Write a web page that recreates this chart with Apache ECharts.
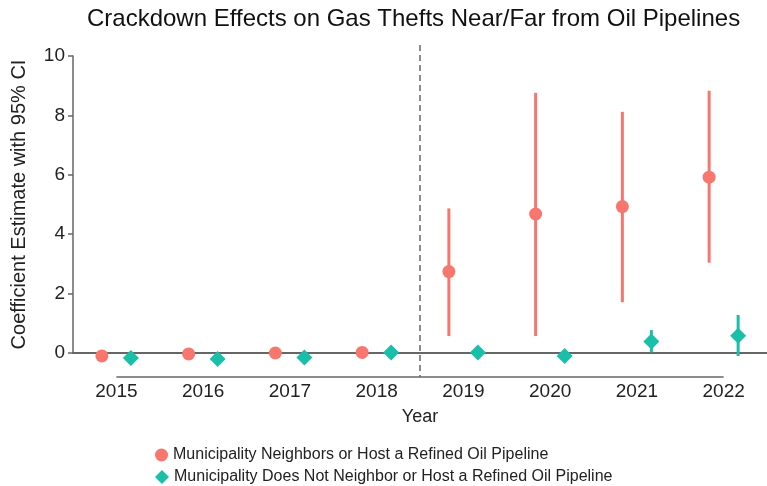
<!DOCTYPE html>
<html><head><meta charset="utf-8">
<script src="https://cdn.jsdelivr.net/npm/echarts@6/dist/echarts.min.js"></script>
<style>html,body{margin:0;padding:0;background:#fff}#c{width:767px;height:486px}</style>
</head><body><div id="c"></div>
<script>
const years = ['2015','2016','2017','2018','2019','2020','2021','2022'];
const yTicks = [0, 2, 4, 6, 8, 10];
const nearEst  = [-0.10, -0.03, 0.00, 0.02, 2.74, 4.68, 4.93, 5.92];
const nearLow  = [-0.18, -0.10, -0.07, -0.05, 0.57, 0.57, 1.71, 3.04];
const nearHigh = [-0.02, 0.04, 0.07, 0.09, 4.87, 8.76, 8.12, 8.83];
const farEst   = [-0.17, -0.20, -0.15, 0.02, 0.02, -0.10, 0.39, 0.58];
const farLow   = [-0.25, -0.30, -0.24, -0.05, -0.06, -0.18, 0.02, -0.10];
const farHigh  = [-0.09, -0.06, -0.07, 0.09, 0.10, -0.02, 0.77, 1.28];
const nearName = 'Municipality Neighbors or Host a Refined Oil Pipeline';
const farName = 'Municipality Does Not Neighbor or Host a Refined Oil Pipeline';
const RED = '#F8766D', TEAL = '#19BFA9';
const OFF = 14.5;
const FONT = 'Liberation Sans';

const chart = echarts.init(document.getElementById('c'), null, {renderer: 'canvas'});

function errBar(color, off) {
  return function (params, api) {
    const p1 = api.coord([api.value(0), api.value(1)]);
    const p2 = api.coord([api.value(0), api.value(2)]);
    return {type: 'line', shape: {x1: p1[0] + off, y1: p1[1], x2: p2[0] + off, y2: p2[1]},
      style: {stroke: color, lineWidth: 3}};
  };
}

const legendText = {fontFamily: FONT, fontSize: 16, color: '#222'};

option = {
  animation: false,
  title: {text: 'Crackdown Effects on Gas Thefts Near/Far from Oil Pipelines', left: 82, top: 2,
    textStyle: {fontFamily: FONT, fontSize: 24, fontWeight: 'normal', color: '#111'}},
  grid: {left: 73, right: 0, top: 56, bottom: 133, containLabel: false},
  legend: [
    {left: 150, top: 442, itemWidth: 13, itemHeight: 13,
     data: [{name: nearName, icon: 'circle'}], textStyle: legendText},
    {left: 150, top: 464, itemWidth: 14, itemHeight: 14,
     data: [{name: farName, icon: 'diamond'}], textStyle: legendText}
  ],
  xAxis: {
    type: 'category', data: years,
    axisLine: {lineStyle: {color: '#666', width: 2}},
    axisTick: {show: false},
    axisLabel: {fontFamily: FONT, fontSize: 19, color: '#222', margin: 29},
    name: 'Year', nameLocation: 'middle', nameGap: 55,
    nameTextStyle: {fontFamily: FONT, fontSize: 18, color: '#222'}
  },
  yAxis: {
    type: 'value', min: yTicks[0], max: yTicks[yTicks.length - 1], interval: 2,
    axisLine: {show: true, lineStyle: {color: '#666', width: 1.5}},
    axisTick: {show: true, length: 5, lineStyle: {color: '#666', width: 1.5}},
    splitLine: {show: false},
    axisLabel: {fontFamily: FONT, fontSize: 19, color: '#222', margin: 8},
    name: 'Coefficient Estimate with 95% CI', nameLocation: 'middle', nameGap: 44,
    nameTextStyle: {fontFamily: FONT, fontSize: 20, color: '#222'}
  },
  series: [
    {
      type: 'custom', name: 'baseline', clip: false, silent: true,
      data: [[0, years.length - 1]],
      renderItem: function (params, api) {
        const a = api.coord([api.value(0), 0]);
        const b = api.coord([api.value(1), 0]);
        return {type: 'line', shape: {x1: a[0], y1: a[1] + 24, x2: b[0], y2: b[1] + 24},
          style: {stroke: '#666', lineWidth: 1.5}};
      }
    },
    {
      type: 'custom', name: 'divider', clip: false, silent: true,
      data: [[3, 4]],
      renderItem: function (params, api) {
        const a = api.coord([api.value(0), yTicks[yTicks.length - 1]]);
        const b = api.coord([api.value(1), 0]);
        const x = (a[0] + b[0]) / 2;
        return {type: 'line', shape: {x1: x, y1: a[1] - 11, x2: x, y2: b[1] + 24},
          style: {stroke: '#666', lineWidth: 1.5, lineDash: [6, 4]}};
      }
    },
    {
      type: 'custom', name: nearName + ' CI', clip: false, silent: true,
      data: years.map((y, i) => [i, nearLow[i], nearHigh[i]]),
      renderItem: errBar(RED, -OFF)
    },
    {
      type: 'custom', name: farName + ' CI', clip: false, silent: true,
      data: years.map((y, i) => [i, farLow[i], farHigh[i]]),
      renderItem: errBar(TEAL, OFF)
    },
    {
      type: 'scatter', name: nearName, clip: false, symbol: 'circle', symbolSize: 13,
      symbolOffset: [-OFF, 0], itemStyle: {color: RED, opacity: 1}, z: 5,
      data: years.map((y, i) => [i, nearEst[i]])
    },
    {
      type: 'scatter', name: farName, clip: false, symbol: 'diamond', symbolSize: 16,
      symbolOffset: [OFF, 0], itemStyle: {color: TEAL, opacity: 1}, z: 5,
      data: years.map((y, i) => [i, farEst[i]])
    }
  ]
};
chart.setOption(option);
</script></body></html>
